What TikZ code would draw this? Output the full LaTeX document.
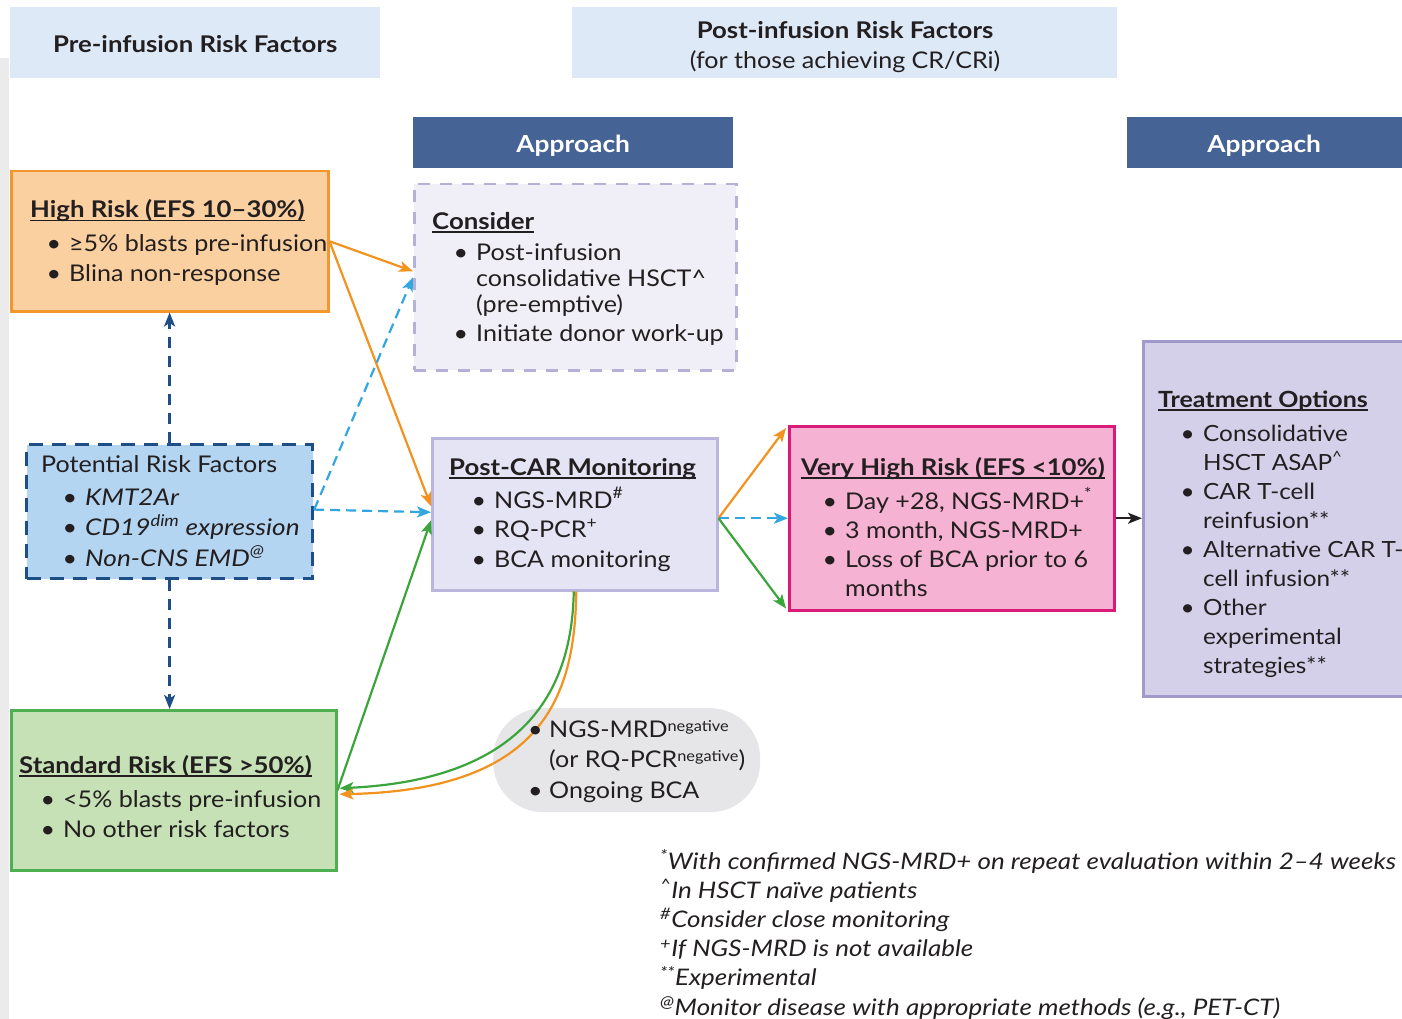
\documentclass[tikz,border=0pt]{standalone}
\usepackage{fontspec}
\setmainfont{Lato}[UprightFeatures={FakeStretch=1.09}, BoldFeatures={FakeStretch=1.12}, ItalicFeatures={FakeStretch=1.14}]
\usetikzlibrary{arrows.meta}
\definecolor{ink}{RGB}{35,31,32}
\definecolor{hdrfill}{RGB}{221,233,247}
\definecolor{apfill}{RGB}{69,99,148}
\definecolor{hrfill}{RGB}{250,208,160}
\definecolor{hrline}{RGB}{242,150,46}
\definecolor{confill}{RGB}{240,239,247}
\definecolor{conline}{RGB}{180,176,214}
\definecolor{potfill}{RGB}{179,213,241}
\definecolor{potline}{RGB}{29,79,134}
\definecolor{pcfill}{RGB}{229,228,244}
\definecolor{pcline}{RGB}{185,181,220}
\definecolor{vhfill}{RGB}{245,178,211}
\definecolor{vhline}{RGB}{216,27,120}
\definecolor{trfill}{RGB}{212,208,234}
\definecolor{trline}{RGB}{160,154,203}
\definecolor{stfill}{RGB}{197,225,181}
\definecolor{stline}{RGB}{76,175,80}
\definecolor{bubfill}{RGB}{230,230,232}
\definecolor{stripfill}{RGB}{235,235,235}
\definecolor{arrorange}{RGB}{242,146,31}
\definecolor{arrblue}{RGB}{51,166,224}
\definecolor{arrgreen}{RGB}{59,165,59}
\newcommand\ttl[1]{\setbox0\hbox{\bfseries #1}\rlap{\rule[-3.5pt]{\wd0}{1.4pt}}\box0}
\newcommand\itm[1][25pt]{\hspace*{\dimexpr#1-3.5pt\relax}\makebox[22.5pt][l]{\textbullet}}
\newcommand\cnt[1][25pt]{\hspace*{#1}\hspace*{19pt}}
\begin{document}
\begin{tikzpicture}[x=1pt,y=-1pt,
  box/.style={draw, line width=2.5pt, inner sep=0pt, anchor=north west},
  hdr/.style={fill=hdrfill, inner sep=0pt, anchor=north west, text=ink, text depth=0pt, font=\fontsize{23}{30}\selectfont},
  apbox/.style={fill=apfill, inner sep=0pt, anchor=north west, text=white, text depth=0pt, font=\fontsize{23.5}{28}\selectfont\bfseries},
  txt/.style={anchor=base west, align=left, inner sep=0pt, text=ink, font=\fontsize{23}{29.5}\selectfont},
  tip/.style={-{Stealth[length=14pt,width=11pt,inset=3.5pt]}},
  orangearr/.style={tip, draw=arrorange, line width=2.2pt},
  greenarr/.style={tip, draw=arrgreen, line width=2.2pt},
  bluearr/.style={tip, draw=arrblue, line width=2.2pt, dash pattern=on 10pt off 6pt},
  navyarr/.style={tip, draw=potline, line width=2.4pt, dash pattern=on 11pt off 8pt},
  blackarr/.style={tip, draw=ink, line width=2.2pt}]
\useasboundingbox (0,0) rectangle (1402,1019);
\fill[stripfill] (0,58) rectangle (9,1019);

% headers
\node[hdr, minimum width=370pt, minimum height=71pt] (h1) at (10,7) {\raisebox{-2pt}{\bfseries Pre-infusion Risk Factors}};
\node[hdr, minimum width=545pt, minimum height=71pt] (h2) at (572,7) {};
\node[anchor=base, align=center, inner sep=0pt, text=ink, font=\fontsize{23}{30}\selectfont] (h2t) at (845,69) {\bfseries Post-infusion Risk Factors\\(for those achieving CR/CRi)};
\node[apbox, minimum width=320pt, minimum height=51pt] (ap1) at (413,117) {\raisebox{-3pt}{Approach}};
\node[apbox, minimum width=280pt, minimum height=51pt] (ap2) at (1127,117) {\hspace*{-3pt}\raisebox{-3pt}{Approach}\hspace*{3pt}};

% boxes
\node[box, fill=hrfill, draw=hrline, minimum width=317pt, minimum height=140pt] (hr) at (10,170) {};
\node[box, fill=confill, draw=conline, dash pattern=on 12pt off 10pt, minimum width=322pt, minimum height=186pt] (con) at (413,183) {};
\node[box, fill=potfill, draw=potline, line width=3.2pt, dash pattern=on 14pt off 9pt, minimum width=286pt, minimum height=134pt] (pot) at (25,443) {};
\node[box, fill=pcfill, draw=pcline, minimum width=285pt, minimum height=152pt] (pc) at (431,437) {};
\node[box, fill=vhfill, draw=vhline, minimum width=325pt, minimum height=184pt] (vh) at (788,425) {};
\node[box, fill=trfill, draw=trline, minimum width=270pt, minimum height=355pt] (tr) at (1142,340) {};
\node[box, fill=stfill, draw=stline, minimum width=325pt, minimum height=160pt] (st) at (10,709) {};
\node[fill=bubfill, rounded corners=50pt, inner sep=0pt, anchor=north west, minimum width=267pt, minimum height=104pt] (bub) at (493,708) {};

% connectors
\draw[navyarr] (pot.north) -- (hr.south -| pot.north);
\draw[navyarr] (pot.south) -- (st.north -| pot.south);
\draw[orangearr] (hr.east) -- ([yshift=6pt]con.west);
\draw[orangearr] (hr.east) -- ([yshift=8pt]pc.west);
\draw[bluearr] ([yshift=2pt]pot.east) -- (con.west);
\draw[bluearr] ([yshift=2pt]pot.east) -- ([yshift=2pt]pc.west);
\draw[greenarr] (st.east) -- ([yshift=-6pt]pc.west);
\draw[greenarr] ([xshift=-1pt]pc.south) .. controls (572,695) and (520,780) .. ([xshift=2pt,yshift=2pt]st.east);
\draw[orangearr] ([xshift=1.5pt]pc.south) .. controls (575,700) and (540,790) .. ([xshift=2pt,yshift=-4pt]st.east);
\coordinate (pcout) at ([yshift=-4pt]pc.east);
\draw[orangearr] (pcout) -- ([xshift=-2pt,yshift=-3pt]vh.north west);
\draw[bluearr] (pcout) -- (pcout -| vh.west);
\draw[greenarr] (pcout) -- ([xshift=-2pt,yshift=3pt]vh.south west);
\draw[blackarr] (vh.east) -- (vh.east -| tr.west);

% texts (anchor = baseline of last line)
\node[txt] (hrt) at (30,281) {\ttl{High Risk (EFS 10–30\%)}\\[4.5pt]
\itm[20pt]≥5\% blasts pre-infusion\\
\itm[20pt]Blina non-response};
\node[txt, font=\fontsize{23}{26}\selectfont] (cont) at (432,341) {\ttl{Consider}\\[5pt]
\itm Post-infusion\\
\cnt consolidative HSCT\textasciicircum\\
\cnt (pre-emptive)\\[3pt]
\itm Initiate donor work-up};
\node[txt, font=\fontsize{23}{30.5}\selectfont] (pott) at (41,566) {Potential Risk Factors\\[2pt]
\itm\textit{KMT2Ar}\\
\itm\textit{CD19\textsuperscript{dim} expression}\\
\itm\textit{Non-CNS EMD\textsuperscript{@}}};
\node[txt] (pct) at (449,567) {\ttl{Post-CAR Monitoring}\\[3.5pt]
\itm[26pt]NGS-MRD\textsuperscript{\#}\\
\itm[26pt]RQ-PCR\textsuperscript{+}\\
\itm[26pt]BCA monitoring};
\node[txt, font=\fontsize{23}{29}\selectfont] (vht) at (801,596) {\ttl{Very High Risk (EFS <10\%)}\\[5pt]
\itm Day +28, NGS-MRD+\textsuperscript{*}\\
\itm 3 month, NGS-MRD+\\
\itm Loss of BCA prior to 6\\
\cnt months};
\node[txt, font=\fontsize{22.3}{29}\selectfont] (trt) at (1158,673) {\ttl{Treatment Options}\\[5pt]
\itm[26pt]Consolidative\\
\cnt[26pt]HSCT ASAP\textsuperscript{\textasciicircum}\\
\itm[26pt]CAR T-cell\\
\cnt[26pt]reinfusion**\\
\itm[26pt]Alternative CAR T-\\
\cnt[26pt]cell infusion**\\
\itm[26pt]Other\\
\cnt[26pt]experimental\\
\cnt[26pt]strategies**};
\node[txt, font=\fontsize{23}{30}\selectfont] (stt) at (19,837) {\ttl{Standard Risk (EFS >50\%)}\\[4pt]
\itm <5\% blasts pre-infusion\\
\itm No other risk factors};
\node[txt, font=\fontsize{23}{30.5}\selectfont] (bubt) at (528,798) {\makebox[21pt][l]{\textbullet}NGS-MRD\raisebox{6pt}{\fontsize{15}{15}\selectfont negative}\\
\hspace*{21pt}(or RQ-PCR\raisebox{6pt}{\fontsize{15}{15}\selectfont negative})\\
\makebox[21pt][l]{\textbullet}Ongoing BCA};
\node[txt, font=\fontsize{22.8}{29.2}\selectfont\itshape] (fn) at (660,1015) {\textsuperscript{*}With confirmed NGS-MRD+ on repeat evaluation within 2–4 weeks\\
\textsuperscript{\textasciicircum}In HSCT naïve patients\\
\textsuperscript{\#}Consider close monitoring\\
\textsuperscript{+}If NGS-MRD is not available\\
\textsuperscript{**}Experimental\\
\textsuperscript{@}Monitor disease with appropriate methods (e.g., PET-CT)};
\end{tikzpicture}
\end{document}
